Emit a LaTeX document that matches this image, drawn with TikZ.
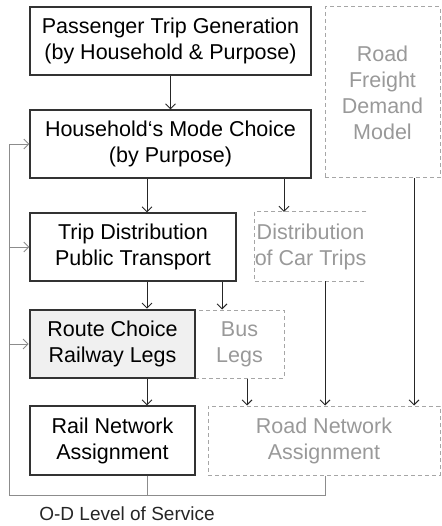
\documentclass[tikz,border=0pt]{standalone}
\usepackage{fontspec}
\setmainfont{Liberation Sans}
\usetikzlibrary{arrows.meta}

\definecolor{boxline}{HTML}{333333}
\definecolor{paleline}{HTML}{A6A6A6}
\definecolor{paletext}{HTML}{999999}
\definecolor{loopline}{HTML}{8C8C8C}

\tikzset{
  stage/.style={draw=boxline,line width=1.2pt,inner sep=0pt,align=center,
    font=\fontsize{21.5}{26}\selectfont,text=black},
  mainstage/.style={stage,line width=2.6pt,fill=black!6},
  roadstage/.style={draw=paleline,dashed,dash pattern=on 4pt off 3pt,line width=1pt,
    inner sep=0pt,align=center,font=\fontsize{21.5}{26}\selectfont,text=paletext},
  flow/.style={-{Straight Barb[length=5pt,width=10pt]},draw=black!85,line width=0.9pt},
  loopflow/.style={-{Straight Barb[length=5pt,width=10pt]},draw=loopline,line width=0.9pt},
  loopline/.style={draw=loopline,line width=0.9pt}
}

\begin{document}
\begin{tikzpicture}[x=1pt,y=-1pt]
        \useasboundingbox (0,0) rectangle (441,526);
        % boxes
        \node[stage,minimum width=281pt,minimum height=68pt] (gen) at (170.5,41)
           {Passenger Trip Generation\\(by Household \& Purpose)};
        \node[roadstage,minimum width=115pt,minimum height=171pt] (freight) at (382.5,92.5)
           {Road\\Freight\\Demand\\Model};
        \node[stage,minimum width=281pt,minimum height=68pt] (mode) at (170.5,144)
           {Household‘s Mode Choice\\(by Purpose)};
        \node[stage,minimum width=206pt,minimum height=68pt] (tdist) at (133,247)
           {Trip Distribution\\Public Transport};
        \node[inner sep=0pt,align=center,font=\fontsize{21.5}{26}\selectfont,text=paletext,
           minimum width=111pt,minimum height=69pt] (cardist) at (310.5,246.5)
           {Distribution\\of Car Trips};
        \draw[paleline,dashed,dash pattern=on 4pt off 3pt,line width=1pt]
           (cardist.north east) -- (cardist.north west) -- (cardist.south west) -- (cardist.south east);
        \node[roadstage,minimum width=89pt,minimum height=68pt] (bus) at (239.5,344)
           {Bus\\Legs};
        \node[mainstage,minimum width=165pt,minimum height=68pt] (route) at (112.5,344)
           {Route Choice\\Railway Legs};
        \node[stage,minimum width=165pt,minimum height=69pt] (rail) at (112.5,440.5)
           {Rail Network\\Assignment};
        \node[roadstage,minimum width=232pt,minimum height=69pt] (road) at (324,440.5)
           {Road Network\\Assignment};

        % columns of the connectors
        \coordinate (colA) at (147,0);
        \coordinate (colB) at (284,0);
        \coordinate (colC) at (222,0);
        \coordinate (colD) at (247,0);
        \coordinate (colE) at (325,0);
        \coordinate (colF) at (414,0);
        \coordinate (loop) at (9,495);

        \draw[flow] (gen) -- (mode);
        \draw[flow] (mode.south -| colA) -- (tdist.north -| colA);
        \draw[flow] (mode.south -| colB) -- (cardist.north -| colB);
        \draw[flow] (tdist.south -| colA) -- (route.north -| colA);
        \draw[flow] (tdist.south -| colC) -- (bus.north -| colC);
        \draw[flow] (route.south -| colA) -- (rail.north -| colA);
        \draw[flow] (bus.south -| colD) -- (road.north -| colD);
        \draw[flow] (cardist.south -| colE) -- (road.north -| colE);
        \draw[flow] (freight.south -| colF) -- (road.north -| colF);

        % feedback
        \draw[loopline] (rail.south -| colA) -- (colA |- loop);
        \draw[loopflow] (road.south -| colE) |- (loop) |- (mode.west);
        \draw[loopflow] (loop |- tdist.west) -- (tdist.west);
        \draw[loopflow] (loop |- route.west) -- (route.west);
        \node[font=\fontsize{19}{22}\selectfont,text=black!85] (los) at (127,514)
           {O-D Level of Service};
      \end{tikzpicture}
\end{document}
